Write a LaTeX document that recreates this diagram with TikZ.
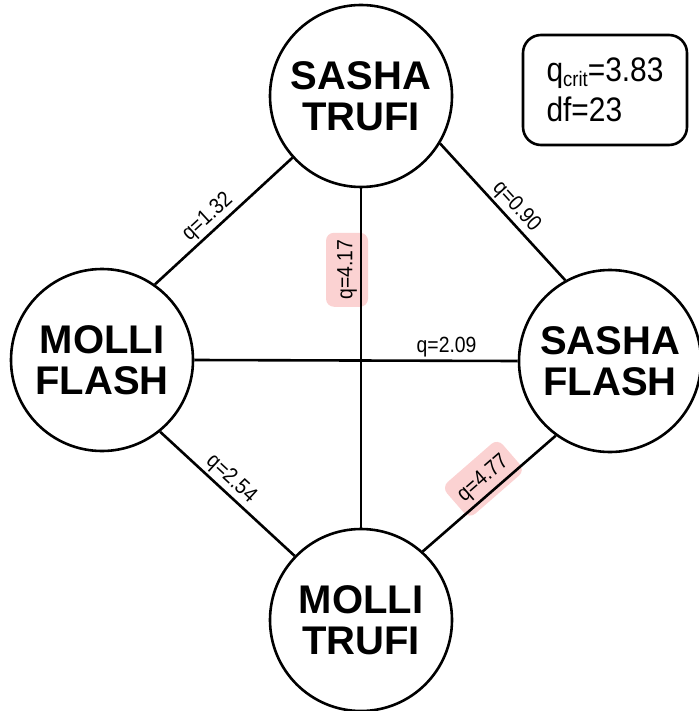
\documentclass[tikz,border=0pt]{standalone}
\usepackage{fontspec}
\setmainfont{Liberation Sans}
\newfontfamily\narrowfont[FakeStretch=0.88]{Liberation Sans}
\definecolor{pinkbg}{RGB}{251,210,210}
\begin{document}
\begin{tikzpicture}[x=1pt,y=-1pt,
  group/.style={circle,draw,line width=2.6pt,minimum size=182pt,inner sep=0pt,align=center,
    font=\fontsize{40}{41}\selectfont\bfseries},
  conn/.style={line width=2.6pt},
  qlab/.style={font=\narrowfont\fontsize{22}{22}\selectfont,inner sep=2pt},
  qhot/.style={qlab,fill=pinkbg,rounded corners=8pt,minimum width=74pt,minimum height=42pt,inner sep=0pt,anchor=south}
]
\useasboundingbox (0,0) rectangle (698,711);
\node[group] (t) at (361,96) {SASHA\\TRUFI};
\node[group] (l) at (102,360) {MOLLI\\FLASH};
\node[group] (r) at (610,361) {SASHA\\FLASH};
\node[group] (b) at (361,620) {MOLLI\\TRUFI};
% highlighted labels first (lines drawn over them)
\path (b.north) -- (t.south) node[qhot,pos=0.76,sloped,outer sep=-7pt] (l417) {q=4.17};
\path (r.234) -- (b.48) node[qhot,pos=0.47,sloped,outer sep=-6pt] (l477) {q=4.77};
% connectors
\draw[conn] (t.222) -- (l.55) node[qlab,pos=0.55,sloped,above] (l132) {q=1.32};
\draw[conn] (t.329) -- (r.119) node[qlab,pos=0.53,sloped,above] (l090) {q=0.90};
\draw[conn] (l.east) -- (r.west) node[qlab,pos=0.78,above] (l209) {q=2.09};
\draw[conn] (b.north) -- (t.south);
\draw[conn] (l.309) -- (b.136) node[qlab,pos=0.46,sloped,above] (l254) {q=2.54};
\draw[conn] (r.234) -- (b.48);
% critical value box
\node[draw,line width=2.6pt,rounded corners=18pt,minimum width=164pt,minimum height=110pt,
  align=left,font=\narrowfont\fontsize{34}{40}\selectfont] (crit) at (605,90)
  {q\raisebox{-0.25ex}{\fontsize{21}{21}\selectfont crit}=3.83\\df=23};
\end{tikzpicture}
\end{document}
